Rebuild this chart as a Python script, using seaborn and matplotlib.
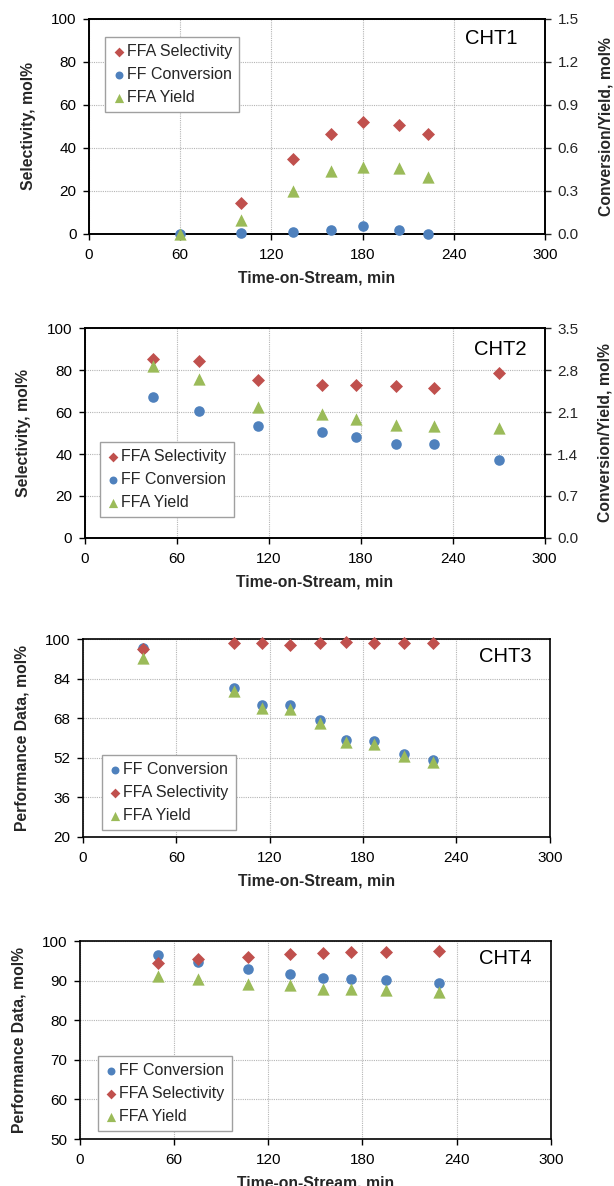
import matplotlib
matplotlib.use("Agg")
import matplotlib.pyplot as plt
import seaborn as sns
from matplotlib.ticker import MultipleLocator, FixedLocator, FormatStrFormatter

sns.set_theme(style="ticks")
plt.rcParams["font.family"] = ["Liberation Sans", "DejaVu Sans"]

RED = "#c0504d"
BLUE = "#4f81bd"
GREEN = "#9bbb59"

# ---- CHT1 ----
cht1_time_sel = [100, 134.5, 159, 180, 204, 223]
cht1_sel = [14.4, 35.1, 46.6, 52.2, 50.6, 46.3]
cht1_time = [60, 100, 134.5, 159, 180, 204, 223]
cht1_conv = [0.0, 0.007, 0.012, 0.03, 0.056, 0.03, 0.0]
cht1_yield = [0.0, 0.10, 0.297, 0.437, 0.469, 0.457, 0.40]

# ---- CHT2 ----
cht2_time = [44.4, 74.4, 113.3, 155, 177, 203, 228, 270]
cht2_sel = [85.4, 84.3, 75.4, 73.0, 72.9, 72.5, 71.4, 78.4]
cht2_conv = [2.345, 2.11, 1.867, 1.77, 1.68, 1.56, 1.56, 1.30]
cht2_yield = [2.87, 2.65, 2.19, 2.06, 1.98, 1.89, 1.86, 1.84]

# ---- CHT3 ----
cht3_time = [38.4, 97, 115.2, 133, 152, 169, 187, 206, 225]
cht3_conv = [96.4, 80.3, 73.3, 73.3, 67.1, 59.2, 58.7, 53.4, 51.1]
cht3_sel = [96.0, 98.2, 98.2, 97.7, 98.2, 98.7, 98.2, 98.4, 98.4]
cht3_yield = [92.2, 79.0, 72.0, 71.7, 66.1, 58.5, 57.7, 52.9, 50.4]
cht3_yticks = [20, 36, 52, 68, 84, 100]

# ---- CHT4 ----
cht4_time = [50, 75, 107, 134, 155, 173, 195, 229]
cht4_conv = [96.5, 94.6, 92.9, 91.8, 90.6, 90.4, 90.2, 89.4]
cht4_sel = [94.5, 95.4, 96.1, 96.8, 97.1, 97.2, 97.3, 97.5]
cht4_yield = [91.1, 90.3, 89.2, 88.9, 88.0, 87.9, 87.7, 87.1]

x_ticks_step = 60
x_max = 300

MS_CIRCLE = 58
MS_DIAMOND = 44
MS_TRIANGLE = 78

TICK_FS = 11
LABEL_FS = 11.3
LEGEND_FS = 11.5
TAG_FS = 14.5


def scatter(ax, x, y, marker, color, size, label):
    sns.scatterplot(x=x, y=y, ax=ax, marker=marker, color=color, s=size,
                    linewidth=0, legend=False, zorder=3)
    coll = ax.collections[-1]
    coll.set_label(label)
    coll.set_clip_on(False)
    return coll


def style_axis(ax, ylim, yticks, ylabel, yfmt="%d"):
    ax.set_xlim(0, x_max)
    ax.set_ylim(*ylim)
    ax.xaxis.set_major_locator(MultipleLocator(x_ticks_step))
    ax.yaxis.set_major_locator(FixedLocator(yticks))
    ax.yaxis.set_major_formatter(FormatStrFormatter(yfmt))
    ax.grid(True, linestyle=(0, (1, 1)), color="#b5b5b5", linewidth=0.8)
    ax.set_axisbelow(True)
    for sp in ax.spines.values():
        sp.set_visible(True)
        sp.set_color("black")
        sp.set_linewidth(1.2)
    ax.tick_params(axis="both", direction="out", length=4, width=1,
                   labelsize=TICK_FS, color="black", labelcolor="black")
    ax.tick_params(axis="x", pad=6)
    ax.tick_params(axis="y", pad=5)
    ax.set_xlabel("Time-on-Stream, min", fontsize=LABEL_FS, fontweight="bold",
                  labelpad=6)
    ax.set_ylabel(ylabel, fontsize=LABEL_FS, fontweight="bold", labelpad=11)
    ax.set_facecolor("white")


def style_right(ax, ylim, step, label):
    ax.set_ylim(*ylim)
    ax.yaxis.set_major_locator(MultipleLocator(step))
    ax.yaxis.set_major_formatter(FormatStrFormatter("%.1f"))
    ax.tick_params(axis="y", direction="out", length=4, width=1,
                   labelsize=TICK_FS, pad=5)
    ax.set_ylabel(label, fontsize=LABEL_FS, fontweight="bold", labelpad=14)
    ax.grid(False)
    for sp in ax.spines.values():
        sp.set_color("black")
        sp.set_linewidth(1.2)


def add_legend(ax, handles, anchor, loc):
    leg = ax.legend(handles=handles, labels=[h.get_label() for h in handles],
                    loc=loc, bbox_to_anchor=anchor, borderaxespad=0,
                    fontsize=LEGEND_FS, frameon=True, fancybox=False,
                    edgecolor="#a0a0a0", framealpha=1, markerscale=0.75,
                    handlelength=0.8, handletextpad=0.1, labelspacing=0.5,
                    borderpad=0.45, scatterpoints=1)
    leg.get_frame().set_linewidth(1.0)
    leg.set_zorder(5)
    return leg


def add_tag(ax, text, xy):
    ax.text(xy[0], xy[1], text, transform=ax.transAxes, ha="right",
            va="center", fontsize=TAG_FS, color="black", zorder=6)


fig = plt.figure(figsize=(6.14, 11.86), dpi=100)
fig.patch.set_facecolor("white")

# Panel 1: selectivity on the left, conversion / yield on the right
ax1 = fig.add_axes([0.145, 0.8027, 0.7427, 0.1813])
style_axis(ax1, (0, 100), range(0, 101, 20), "Selectivity, mol%")
h_sel = scatter(ax1, cht1_time_sel, cht1_sel, "D", RED, MS_DIAMOND, "FFA Selectivity")
ax1b = ax1.twinx()
h_conv = scatter(ax1b, cht1_time, cht1_conv, "o", BLUE, MS_CIRCLE, "FF Conversion")
h_yld = scatter(ax1b, cht1_time, cht1_yield, "^", GREEN, MS_TRIANGLE, "FFA Yield")
style_right(ax1b, (0, 1.5), 0.3, "Conversion/Yield, mol%")
add_legend(ax1b, [h_sel, h_conv, h_yld], (0.035, 0.916), "upper left")
add_tag(ax1b, "CHT1", (0.94, 0.907))

# Panel 2
ax2 = fig.add_axes([0.138, 0.5464, 0.749, 0.177])
style_axis(ax2, (0, 100), range(0, 101, 20), "Selectivity, mol%")
h_sel = scatter(ax2, cht2_time, cht2_sel, "D", RED, MS_DIAMOND, "FFA Selectivity")
ax2b = ax2.twinx()
h_conv = scatter(ax2b, cht2_time, cht2_conv, "o", BLUE, MS_CIRCLE, "FF Conversion")
h_yld = scatter(ax2b, cht2_time, cht2_yield, "^", GREEN, MS_TRIANGLE, "FFA Yield")
style_right(ax2b, (0, 3.5), 0.7, "Conversion/Yield, mol%")
add_legend(ax2b, [h_sel, h_conv, h_yld], (0.033, 0.10), "lower left")
add_tag(ax2b, "CHT2", (0.96, 0.90))

# Panel 3
ax3 = fig.add_axes([0.135, 0.2943, 0.7606, 0.1669])
style_axis(ax3, (20, 100), cht3_yticks, "Performance Data, mol%")
h_conv = scatter(ax3, cht3_time, cht3_conv, "o", BLUE, MS_CIRCLE, "FF Conversion")
h_sel = scatter(ax3, cht3_time, cht3_sel, "D", RED, MS_DIAMOND, "FFA Selectivity")
h_yld = scatter(ax3, cht3_time, cht3_yield, "^", GREEN, MS_TRIANGLE, "FFA Yield")
ax3.tick_params(right=False, top=False)
add_legend(ax3, [h_conv, h_sel, h_yld], (0.04, 0.035), "lower left")
add_tag(ax3, "CHT3", (0.96, 0.914))

# Panel 4
ax4 = fig.add_axes([0.130, 0.0396, 0.767, 0.1669])
style_axis(ax4, (50, 100), range(50, 101, 10), "Performance Data, mol%")
h_conv = scatter(ax4, cht4_time, cht4_conv, "o", BLUE, MS_CIRCLE, "FF Conversion")
h_sel = scatter(ax4, cht4_time, cht4_sel, "D", RED, MS_DIAMOND, "FFA Selectivity")
h_yld = scatter(ax4, cht4_time, cht4_yield, "^", GREEN, MS_TRIANGLE, "FFA Yield")
ax4.tick_params(right=False, top=False)
add_legend(ax4, [h_conv, h_sel, h_yld], (0.038, 0.04), "lower left")
add_tag(ax4, "CHT4", (0.96, 0.914))

fig.savefig("out.png", dpi=100, facecolor="white")
